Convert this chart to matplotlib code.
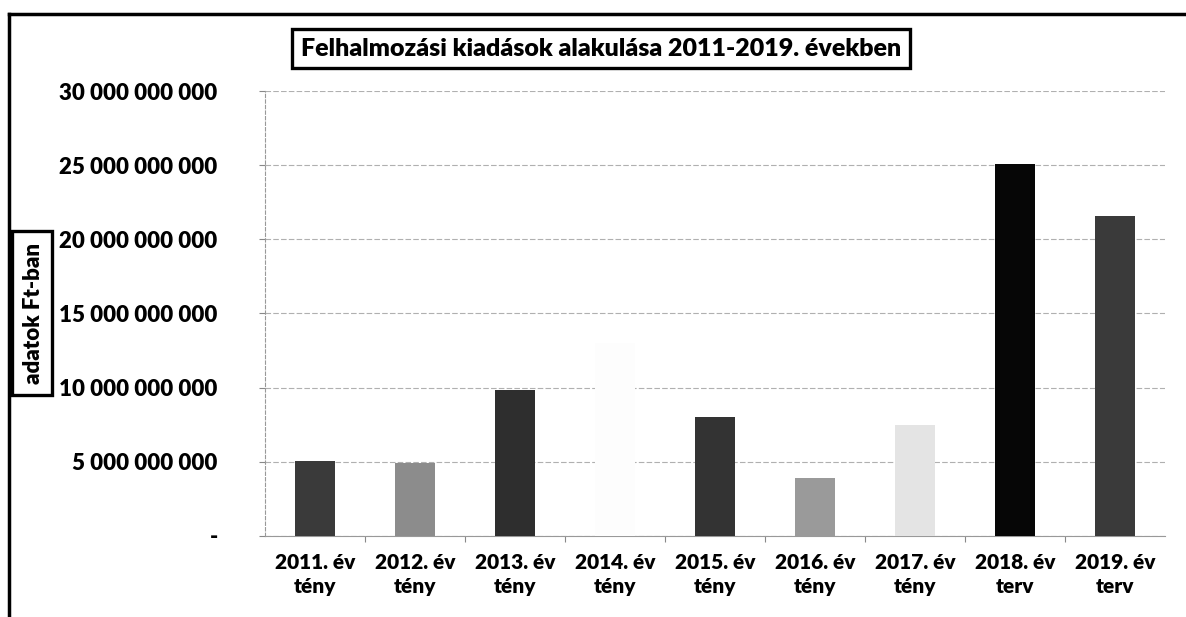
import matplotlib
matplotlib.use("Agg")
import matplotlib.pyplot as plt
from matplotlib.lines import Line2D
from matplotlib.patches import Rectangle
from matplotlib.ticker import FuncFormatter, MultipleLocator

# ── Data ────────────────────────────────────────────────────────────────────
years = ["2011. év", "2012. év", "2013. év", "2014. év", "2015. év",
         "2016. év", "2017. év", "2018. év", "2019. év"]
kinds = ["tény", "tény", "tény", "tény", "tény", "tény", "tény", "terv", "terv"]
values = [5.05e9, 4.9e9, 9.83e9, 13.0e9, 8.0e9, 3.9e9, 7.47e9, 25.1e9, 21.55e9]
bar_greys = ["#3a3a3a", "#8c8c8c", "#2e2e2e", "#fdfdfd", "#333333",
             "#9a9a9a", "#e4e4e4", "#060606", "#3a3a3a"]

WEIGHT = "heavy"
plt.rcParams["font.family"] = ["Lato", "DejaVu Sans"]
plt.rcParams["font.weight"] = WEIGHT

W, H = 1186, 617
fig = plt.figure(figsize=(W / 100, H / 100), dpi=100)
ax = fig.add_axes([0.2234, 0.1313, 0.7589, 0.7212])

x = range(len(years))
ax.bar(x, values, width=0.4, color=bar_greys, zorder=3)

ax.set_xlim(-0.5, len(years) - 0.5)
ax.set_ylim(0, 30e9)
ax.yaxis.set_major_locator(MultipleLocator(5e9))


def _fmt(v, _pos):
    if v == 0:
        return "-"
    return f"{v:,.0f}".replace(",", " ")


ax.yaxis.set_major_formatter(FuncFormatter(_fmt))
ax.grid(True, axis="y", color="#b0b0b0", linewidth=0.8,
        linestyle=(0, (5, 2)), zorder=0)

ax.set_xticks(list(x))
ax.set_xticklabels([f"{y}\n{k}" for y, k in zip(years, kinds)],
                   fontsize=15, fontweight=WEIGHT, linespacing=1.35)
ax.set_xticks([i + 0.5 for i in range(len(years) - 1)], minor=True)
ax.tick_params(axis="x", which="major", length=0, pad=12)
ax.tick_params(axis="x", which="minor", length=4, color="#888888", width=0.8)
ax.tick_params(axis="y", length=4, color="#888888", width=0.8, pad=30,
               labelsize=16)
for lab in ax.get_yticklabels():
    lab.set_fontweight(WEIGHT)

for side in ("top", "right"):
    ax.spines[side].set_visible(False)
ax.spines["left"].set_color("#999999")
ax.spines["left"].set_linestyle((0, (3, 2)))
ax.spines["left"].set_linewidth(0.8)
ax.spines["bottom"].set_color("#999999")
ax.spines["bottom"].set_linewidth(0.8)

# boxed title
fig.text(0.507, 0.921, "Felhalmozási kiadások alakulása 2011-2019. években",
         ha="center", va="center", fontsize=18, fontweight=WEIGHT,
         bbox=dict(boxstyle="square,pad=0.35", facecolor="white",
                   edgecolor="black", linewidth=2.4))

# boxed y label (box drawn by hand, it is wider than the text)
fig.add_artist(Rectangle((12 / W, 1 - 395 / H), 40 / W, 164 / H,
                         transform=fig.transFigure, facecolor="white",
                         edgecolor="black", linewidth=2.4, zorder=2))
fig.text(33 / W, 1 - 314 / H, "adatok Ft-ban", rotation=90,
         ha="center", va="center", fontsize=16, fontweight=WEIGHT, zorder=3)

# outer frame (only top and left edges are visible in the scan)
fig.add_artist(Line2D([0.0075, 0.0075], [0.0, 0.978], color="black",
                      linewidth=2.5, transform=fig.transFigure, zorder=0))
fig.add_artist(Line2D([0.0075, 1.0], [0.978, 0.978], color="black",
                      linewidth=2.5, transform=fig.transFigure, zorder=0))

fig.savefig("out.png", dpi=100)
